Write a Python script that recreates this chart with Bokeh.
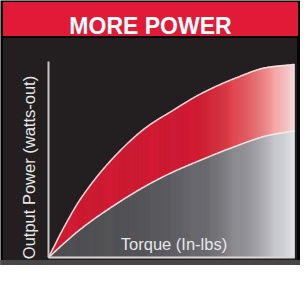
import numpy as np
from bokeh.plotting import figure
from bokeh.embed import file_html
from bokeh.resources import INLINE
from bokeh.core.properties import value

# ---------------- data ----------------
title_text = "MORE POWER"
x_label = "Torque (In-lbs)"
y_label = "Output Power (watts-out)"
torque = [0, 6.5, 13, 27, 40, 50, 62, 76, 89, 100]
power_new = [0, 16, 30, 52, 67, 75, 84, 92, 97.5, 99]
power_old = [0, 7.5, 14.5, 27, 37, 43.5, 50, 57, 62.5, 65]

# ---------------- layout helpers (page px -> data) ----------------
X0, XS = 56, 2.46
Y0, YS = 265, 1.95
W, H = 300, 265


def dx(px):
    return (px - X0) / XS


def dy(py):
    return (Y0 - py) / YS


def pchip(x, y, xn):
    x = np.asarray(x, float)
    y = np.asarray(y, float)
    h = np.diff(x)
    d = np.diff(y) / h
    m = np.zeros_like(y)
    for k in range(1, len(x) - 1):
        if d[k - 1] * d[k] > 0:
            w1 = 2 * h[k] + h[k - 1]
            w2 = h[k] + 2 * h[k - 1]
            m[k] = (w1 + w2) / (w1 / d[k - 1] + w2 / d[k])
    m[0] = d[0]
    m[-1] = d[-1]
    idx = np.clip(np.searchsorted(x, xn) - 1, 0, len(h) - 1)
    t = (xn - x[idx]) / h[idx]
    h00 = 2 * t**3 - 3 * t**2 + 1
    h10 = t**3 - 2 * t**2 + t
    h01 = -2 * t**3 + 3 * t**2
    h11 = t**3 - t**2
    return h00 * y[idx] + h10 * h[idx] * m[idx] + h01 * y[idx + 1] + h11 * h[idx] * m[idx + 1]


def grad(t, stops, chans):
    return "#%02x%02x%02x" % tuple(int(round(np.interp(t, stops, c))) for c in chans)


p = figure(width=W, height=H, x_range=(dx(8), dx(308)), y_range=(dy(273), dy(8)),
           output_backend="svg", toolbar_location=None, min_border=0,
           x_axis_location=None, y_axis_location=None, outline_line_color=None,
           background_fill_color="#060606", border_fill_color="#060606")
p.grid.visible = False

# frame decorations
p.quad(left=[dx(11)], right=[dx(305)], top=[dy(10)], bottom=[dy(43)], color="#e21a38")
p.quad(left=[dx(11)], right=[dx(304)], top=[dy(46)], bottom=[dy(268)], color="#231f20")
p.quad(left=[dx(8)], right=[dx(308)], top=[dy(268)], bottom=[dy(273)], color="#464646")

# curves
xmax = max(torque)
xs = np.linspace(0, xmax, 241)
up = pchip(torque, power_new, xs)
lo = pchip(torque, power_old, xs)

red_stops = [0, 0.6, 0.72, 0.83, 0.92, 1.0]
red_ch = ([212, 212, 222, 236, 248, 255], [28, 28, 58, 108, 165, 228], [52, 52, 70, 112, 165, 228])
gray_stops = [0, 0.4, 0.65, 0.83, 0.95, 1.0]
gray_ch = ([80, 88, 112, 160, 212, 236], [80, 88, 112, 160, 213, 237], [83, 92, 117, 165, 218, 241])

gx, gy, gc, rx, ry, rc = [], [], [], [], [], []
for i in range(len(xs) - 1):
    t = 0.5 * (xs[i] + xs[i + 1]) / xmax
    gx.append([xs[i], xs[i + 1], xs[i + 1], xs[i]])
    gy.append([0, 0, lo[i + 1], lo[i]])
    gc.append(grad(t, gray_stops, gray_ch))
    rx.append([xs[i], xs[i + 1], xs[i + 1], xs[i]])
    ry.append([lo[i], lo[i + 1], up[i + 1], up[i]])
    rc.append(grad(t, red_stops, red_ch))

p.patches(gx, gy, fill_color=gc, line_color=gc, line_width=0.6)
p.patches(rx, ry, fill_color=rc, line_color=rc, line_width=0.6)

p.line(xs, up, line_color="#f2e4e4", line_width=1.6, line_alpha=0.9)
p.line(xs, lo, line_color="#f0f0f0", line_width=1.6, line_alpha=0.9)

# axis lines
y_top = 100.5
p.segment(x0=[0], y0=[0], x1=[0], y1=[y_top], line_color="#c4c4c4", line_width=2)
p.segment(x0=[0], y0=[0], x1=[xmax], y1=[0], line_color="#d8d8d8", line_width=2)

# texts
p.text(x=[dx(158)], y=[dy(33)], text=[title_text], text_color="white",
       text_font=value("Liberation Sans"), text_font_style="bold", text_font_size="23px",
       text_align="center", text_baseline="alphabetic")
p.text(x=[dx(181.5)], y=[dy(251)], text=[x_label], text_color="#e6e6e6",
       text_font=value("Liberation Sans"), text_font_size="16.5px",
       text_align="center", text_baseline="alphabetic")
p.text(x=[dx(36)], y=[dy(175)], text=[y_label], text_color="#e6e6e6", angle=np.pi / 2,
       text_font=value("Liberation Sans"), text_font_size="16.5px",
       text_align="center", text_baseline="alphabetic")

open("out.html", "w").write(file_html(p, INLINE))
